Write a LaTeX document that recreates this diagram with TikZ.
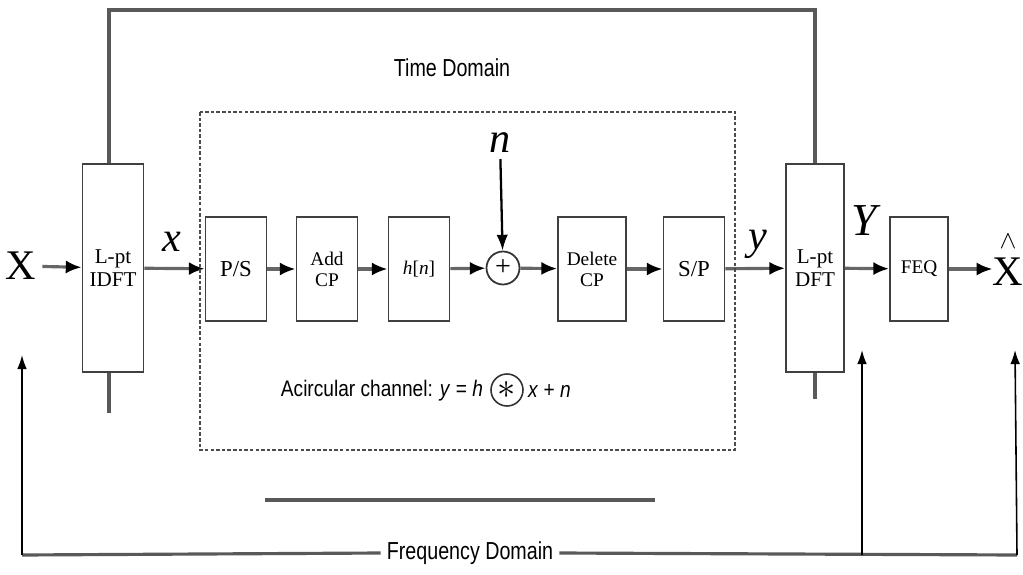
\documentclass[tikz,border=0pt]{standalone}
\usepackage{fontspec}
\setmainfont{Liberation Serif}
\newfontfamily\sansf{Liberation Sans}
\newfontfamily\narrowsans[FakeStretch=0.8]{Liberation Sans}
\newfontfamily\chansans[FakeStretch=0.85]{Liberation Sans}
\usetikzlibrary{positioning, arrows.meta}

\begin{document}
\begin{tikzpicture}[x=0.02cm, y=-0.02cm,
      >=Latex,
      blk/.style={draw=black!75, line width=1pt, fill=white, minimum width=1.22cm,
        minimum height=2.08cm, inner sep=1pt, align=center,
        font=\fontsize{11}{12}\selectfont},
      tallblk/.style={blk, minimum height=4.16cm, font=\fontsize{12}{13}\selectfont},
      sig/.style={-{Latex[length=9pt,width=7.5pt,color=black]}, line width=1.8pt, draw=black!60},
      fb/.style={-{Latex[length=8pt,width=5.5pt]}, line width=0.9pt},
      bus/.style={line width=1.8pt, draw=black!65},
      lab/.style={font=\fontsize{24}{24}\selectfont},
      dom/.style={font=\narrowsans\fontsize{14}{14}\selectfont},
      chan/.style={font=\chansans\fontsize{12.8}{14}\selectfont, inner sep=1pt}
    ]
    \useasboundingbox (0,0) rectangle (1023,574);

    % blocks
    \node[tallblk] (idft) at (113,268) {L-pt\\IDFT};
    \node[blk, font=\fontsize{13}{14}\selectfont] (ps) at (236,269) {P/S};
    \node[blk] (addcp) at (327,269) {Add\\CP};
    \node[blk] (hn) at (419,269) {\textit{h}[\textit{n}]};
    \node[circle, draw=black!80, line width=1pt, minimum size=0.66cm, inner sep=0pt,
      font=\fontsize{16}{16}\selectfont] (sum) at (503,268) {+};
    \node[blk, minimum width=1.36cm] (delcp) at (592,269) {Delete\\CP};
    \node[blk, font=\fontsize{13}{14}\selectfont] (sp) at (694,269) {S/P};
    \node[tallblk, minimum width=1.16cm] (dft) at (815,268) {L-pt\\DFT};
    \node[blk, minimum width=1.16cm] (feq) at (919,269) {FEQ};

    % signal labels
    \node[lab] (X) at (21,266) {X};
    \node[lab] (xl) at (172,242) {\textit{x}};
    \node[lab] (n) at (500,143) {\textit{n}};
    \node[lab] (yl) at (758,244) {\textit{y}};
    \node[lab, font=\fontsize{26}{26}\selectfont] (Y) at (866,221) {\textit{Y}};
    \node[lab, align=center, inner sep=0pt] (Xhat) at (1008,260) {\fontsize{14}{14}\selectfont$\wedge$\\[-3pt]X};

    % forward path
    \draw[sig] (X) -- (idft);
    \draw[sig] (idft) -- (ps);
    \draw[sig] (ps) -- (addcp);
    \draw[sig] (addcp) -- (hn);
    \draw[sig] (hn) -- (sum);
    \draw[sig] (sum) -- (delcp);
    \draw[sig] (delcp) -- (sp);
    \draw[sig] (sp) -- (dft);
    \draw[sig] (dft) -- (feq);
    \draw[sig] (feq) -- (Xhat.west |- feq.east);
    \draw[fb, line width=1.3pt, -{Latex[length=9pt,width=6.5pt]}] (n) -- (sum);

    % time domain loop
    \coordinate (topl) at (109,10);
    \draw[bus] (idft.north -| topl) -- (topl) -| (dft.north);
    \draw[bus] (idft.south -| topl) -- ++(0,40);
    \draw[bus] (dft.south) -- ++(0,26);
    \node[dom] (tdom) at (452,68) {Time Domain};

    % channel box
    \draw[black!70, line width=0.8pt, dash pattern=on 2pt off 1.2pt] (200,112) rectangle (735,450);
    \node[chan, anchor=east] (acl) at (485,391) {Acircular channel: \textit{y} = \textit{h}};
    \node[circle, draw=black!80, line width=0.9pt, minimum size=0.64cm, inner sep=0pt,
      font=\fontsize{20}{20}\selectfont] (conv) at (507,390) {$\ast$};
    \node[chan, anchor=west] (acr) at (526,391) {\textit{x} + \textit{n}};

    % frequency domain
    \coordinate (ul1) at (265,500);
    \coordinate (ul2) at (655,500);
    \draw[bus] (ul1) -- (ul2);
    \node[dom] (fdom) at (470,553) {Frequency Domain};
    \coordinate (fbl) at (22,555);
    \coordinate (fbm) at (862,555);
    \coordinate (fbr) at (1017,555);
    \coordinate (fbltip) at (22,355);
    \coordinate (fbmtip) at (862,350);
    \coordinate (fbrtip) at (1015,350);
    \draw[bus] (fbl) -- (fdom.west);
    \draw[bus] (fdom.east) -- (fbr);
    \draw[fb] (fbl) -- (fbltip);
    \draw[fb] (fbm) -- (fbmtip);
    \draw[fb] (fbr) -- (fbrtip);

\end{tikzpicture}
\end{document}
